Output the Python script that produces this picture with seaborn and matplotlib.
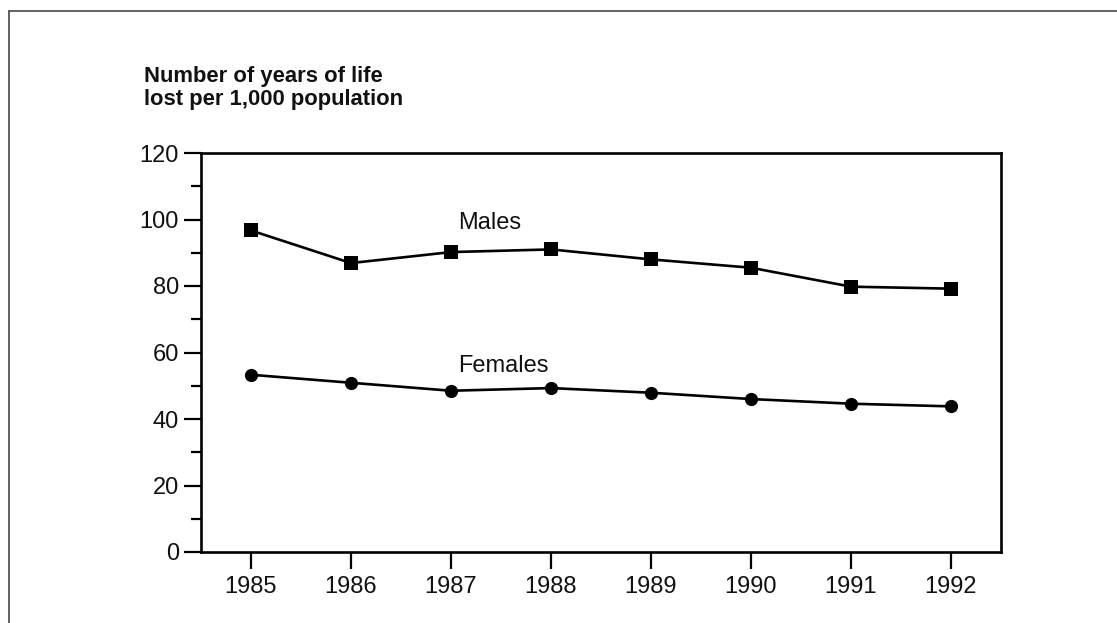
import matplotlib
matplotlib.use("Agg")
import matplotlib.pyplot as plt
import seaborn as sns
import pandas as pd
from matplotlib.ticker import MultipleLocator
from matplotlib.lines import Line2D

years = [1985, 1986, 1987, 1988, 1989, 1990, 1991, 1992]
males = [96.7, 86.9, 90.2, 91.0, 88.0, 85.5, 79.8, 79.2]
females = [53.3, 50.9, 48.5, 49.3, 47.9, 46.0, 44.6, 43.8]
series_names = ["Males", "Females"]
title_text = "Number of years of life\nlost per 1,000 population"

df = pd.DataFrame({
    "year": years * 2,
    "value": males + females,
    "sex": [series_names[0]] * len(years) + [series_names[1]] * len(years),
})

sns.set_theme(style="white")
plt.rcParams["font.family"] = ["Liberation Sans", "DejaVu Sans"]

fig = plt.figure(figsize=(11.17, 6.23), dpi=100)
ax = fig.add_axes([201 / 1117, 1 - 552 / 623, 800 / 1117, 399 / 623])

sns.lineplot(data=df, x="year", y="value", style="sex",
             markers={"Males": "s", "Females": "o"}, dashes=False,
             color="black", linewidth=1.9, markersize=9.5, markeredgewidth=0,
             legend=False, ax=ax)

ax.set_xlim(1984.5, 1992.5)
ax.set_ylim(0, 120)
ax.set_xticks(years)
ax.set_xticklabels([str(y) for y in years])
ax.yaxis.set_major_locator(MultipleLocator(20))
ax.yaxis.set_minor_locator(MultipleLocator(10))
ax.set_xlabel("")
ax.set_ylabel("")

for s in ax.spines.values():
    s.set_visible(True)
    s.set_color("black")
    s.set_linewidth(1.9)

ax.tick_params(axis="both", which="major", direction="out", length=12, width=1.6,
               color="black", labelsize=17, labelcolor="#111111")
ax.tick_params(axis="y", which="major", pad=4, left=True)
ax.tick_params(axis="x", which="major", pad=5, bottom=True)
ax.tick_params(axis="y", which="minor", direction="out", length=7, width=1.6,
               color="black", left=True)

ax.text(1987.07, 98.8, series_names[0], fontsize=17, ha="left", va="center", color="#111111")
ax.text(1987.07, 56.0, series_names[1], fontsize=17, ha="left", va="center", color="#111111")

fig.text(144 / 1117, 1 - 66 / 623, title_text, fontsize=15.8, fontweight="bold",
         ha="left", va="top", linespacing=1.15, color="#111111")

fig.add_artist(Line2D([8.5 / 1117, 8.5 / 1117], [0, 1 - 10.5 / 623],
                      color="#555555", linewidth=1.3, transform=fig.transFigure))
fig.add_artist(Line2D([8.5 / 1117, 1], [1 - 10.5 / 623, 1 - 10.5 / 623],
                      color="#555555", linewidth=1.3, transform=fig.transFigure))

fig.savefig("out.png", dpi=100, facecolor="white")
